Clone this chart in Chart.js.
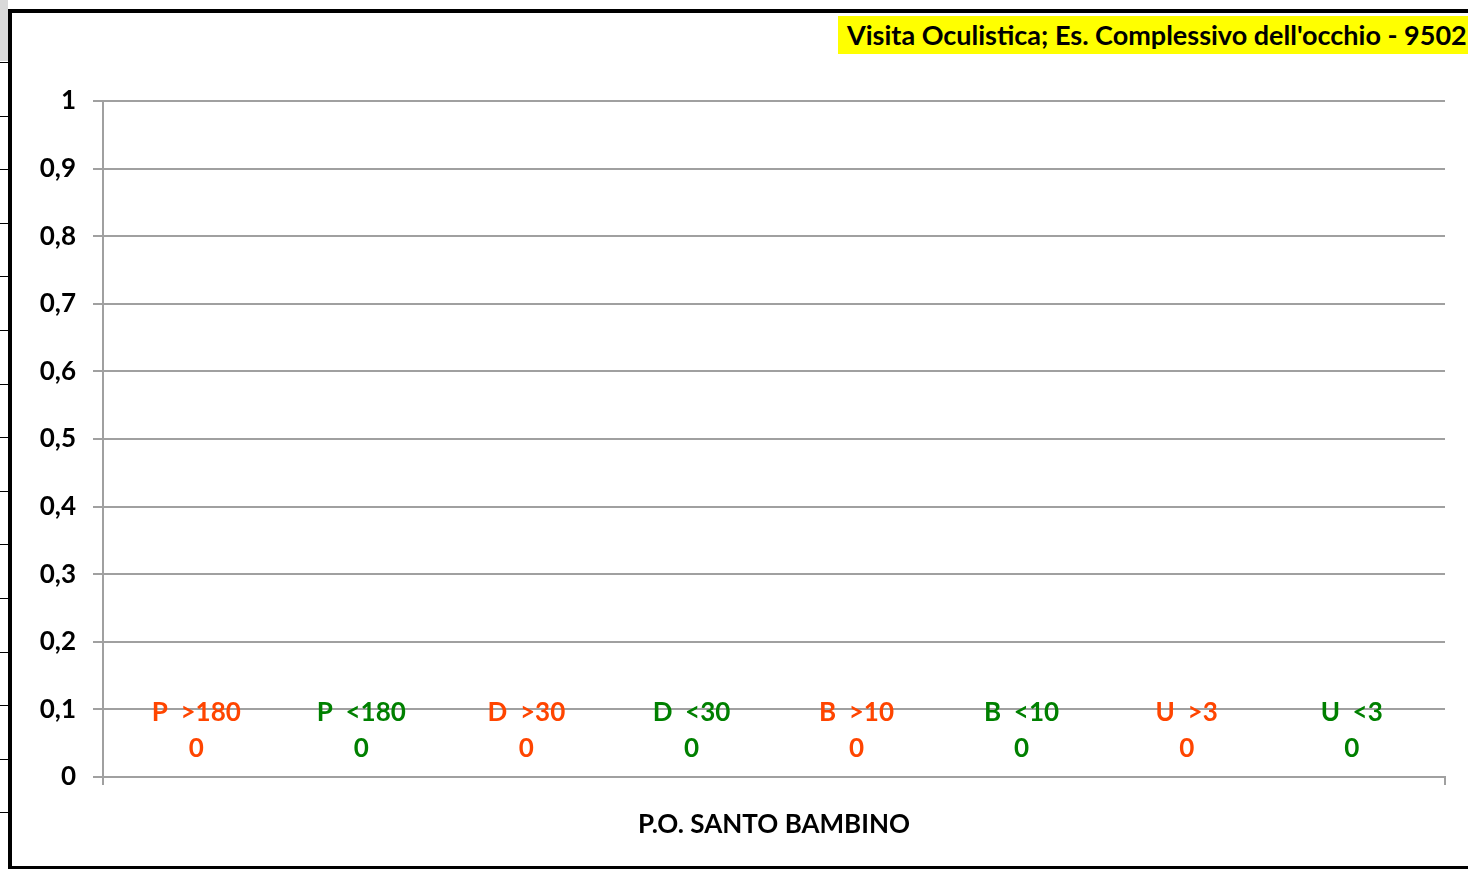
<!DOCTYPE html>
<html>
<head>
<meta charset="utf-8">
<title>Visita Oculistica</title>
<script src="https://cdn.jsdelivr.net/npm/chart.js@4.4.1/dist/chart.umd.min.js"></script>
<style>
  body { margin: 0; width: 1468px; height: 869px; overflow: hidden; background: #fff; position: relative; font-family: Lato, "Open Sans", sans-serif; }
  #strip { position: absolute; left: 0; top: 0; width: 8px; height: 869px; }
  #strip .cell0 { position: absolute; left: 0; top: 0; width: 8px; height: 61px; background: #d9d9d9; }
  #strip .row { position: absolute; left: 0; width: 8px; height: 1px; background: #000; }
  #frame { position: absolute; left: 8px; top: 9px; width: 1460px; height: 860px; box-sizing: border-box;
           border-left: 4px solid #000; border-top: 4px solid #000; border-bottom: 3px solid #000; }
  #wrap { position: absolute; left: 0; top: 0; width: 1456px; height: 853px; }
  #titolo { position: absolute; left: 838px; top: 16px; width: 630px; height: 38px; background: #ffff00;
            font: bold 27px Lato, sans-serif; line-height: 38px; padding-left: 9px; box-sizing: border-box; white-space: nowrap; color: #000; }
</style>
</head>
<body>
<div id="strip"><div class="cell0"></div></div>
<div id="frame"><div id="wrap"><canvas id="grafico"></canvas></div></div>
<div id="titolo">Visita Oculistica; Es. Complessivo dell'occhio - 9502</div>

<script>
// dati del grafico
const categorie = ['P.O. SANTO BAMBINO'];
const serie = ['P  >180', 'P  <180', 'D  >30', 'D  <30', 'B  >10', 'B  <10', 'U  >3', 'U  <3'];
const valori = [0, 0, 0, 0, 0, 0, 0, 0];
const yMax = 1;
const yPasso = 0.1;

const rosso = '#ff4500';
const verde = '#008000';
const coloriSerie = [rosso, verde, rosso, verde, rosso, verde, rosso, verde];

// righe del foglio a sinistra
let strip = document.getElementById('strip');
for (let k = 0; k < 15; k++) {
    let r = document.createElement('div');
    r.className = 'row';
    r.style.top = Math.round(62 + k * 53.6) + 'px';
    strip.appendChild(r);
}

// etichette sopra le barre (nome serie + valore)
const etichette = {
    id: 'etichette',
    afterDatasetsDraw(chart) {
        const ctx = chart.ctx;
        ctx.save();
        ctx.font = 'bold 26px Lato, sans-serif';
        ctx.textAlign = 'center';
        ctx.textBaseline = 'middle';
        chart.data.datasets.forEach((ds, i) => {
            const bar = chart.getDatasetMeta(i).data[0];
            ctx.fillStyle = coloriSerie[i];
            ctx.fillText(ds.label, bar.x, bar.y - 64);
            ctx.fillText(String(ds.data[0]), bar.x, bar.y - 28);
        });
        ctx.restore();
    }
};

const grigio = '#a0a0a0';

new Chart(document.getElementById('grafico'), {
    type: 'bar',
    data: {
        labels: categorie,
        datasets: serie.map((nome, i) => ({
            label: nome,
            data: [valori[i]],
            backgroundColor: coloriSerie[i],
            categoryPercentage: 0.984,
            barPercentage: 1
        }))
    },
    options: {
        responsive: true,
        maintainAspectRatio: false,
        animation: false,
        layout: { padding: { top: 88, right: 23, left: 0, bottom: 0 } },
        plugins: {
            legend: { display: false },
            tooltip: { enabled: false }
        },
        scales: {
            x: {
                offset: true,
                border: { color: grigio, width: 2 },
                grid: { offset: true, drawOnChartArea: false, color: grigio, lineWidth: 2, tickLength: 8 },
                ticks: { color: '#000', font: { family: 'Lato', size: 26, weight: 'bold' }, padding: 24 },
                afterFit(scale) { scale.height = 89; }
            },
            y: {
                min: 0,
                max: yMax,
                border: { color: grigio, width: 2 },
                grid: { color: grigio, lineWidth: 2, tickLength: 10 },
                ticks: {
                    stepSize: yPasso,
                    color: '#000',
                    padding: 17,
                    font: { family: 'Lato', size: 26, weight: 'bold' },
                    callback: v => (Math.round(v * 10) / 10).toString().replace('.', ',')
                },
                afterFit(scale) { scale.width = 91; }
            }
        }
    },
    plugins: [etichette]
});
</script>
</body>
</html>
